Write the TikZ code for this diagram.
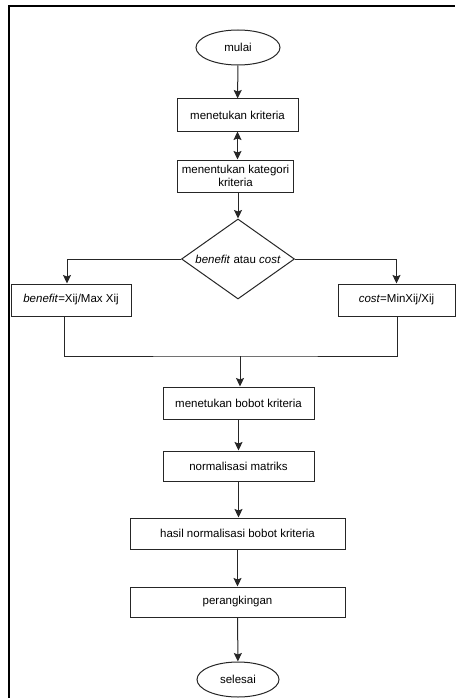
\documentclass[tikz,border=0pt]{standalone}
\usepackage{fontspec}
\setmainfont{Liberation Sans}
\usetikzlibrary{shapes.geometric,arrows.meta}
\begin{document}
\begin{tikzpicture}[x=1pt,y=-1pt,
  every node/.style={font=\fontsize{11.5}{13.5}\selectfont, text=black},
  box/.style={draw=black!85, line width=1pt, rectangle, inner sep=0pt, align=center},
  oval/.style={draw=black!85, line width=1pt, ellipse, inner sep=0pt},
  conn/.style={draw=black!85, line width=1pt},
  arr/.style={conn, -{Stealth[length=8.5pt,width=8pt,inset=1.5pt]}},
  darr/.style={conn, {Stealth[length=8.5pt,width=8pt,inset=1.5pt]}-{Stealth[length=8.5pt,width=8pt,inset=1.5pt]}},
  frame/.style={draw=black, line width=2pt}]
\useasboundingbox (0,0) rectangle (455,698);
\draw[frame] (9,698) -- (9,6) -- (455,6);

\node[oval, minimum width=84pt, minimum height=35pt] (mulai) at (238,47.5) {mulai};
\node[box, minimum width=121pt, minimum height=32pt] (k1) at (237.5,115) {menetukan kriteria};
\node[box, minimum width=116pt, minimum height=32pt] (k2) at (235.5,176) {menentukan kategori\\kriteria};
\node[diamond, draw=black!85, line width=1pt, inner sep=0pt, minimum width=113pt, minimum height=80pt] (dia) at (238,259) {};
\node (diat) at (dia.center) {\textit{benefit} atau \textit{cost}};
\node[box, minimum width=120pt, minimum height=32pt] (lb) at (71,300) {\textit{benefit}=Xij/Max Xij};
\node[box, minimum width=117pt, minimum height=32pt] (rb) at (396.5,300) {\textit{cost}=MinXij/Xij};
\coordinate (j) at (240,356);
\node[box, minimum width=151pt, minimum height=32pt] (bobot) at (238.5,403) {menetukan bobot kriteria};
\node[box, minimum width=151pt, minimum height=30pt] (norm) at (238.5,466) {normalisasi matriks};
\node[box, minimum width=215pt, minimum height=31pt] (hasil) at (237.5,533.5) {hasil normalisasi bobot kriteria};
\node[box, minimum width=215pt, minimum height=30pt] (rank) at (237.5,602) {perangkingan};
\node[oval, minimum width=82pt, minimum height=35pt] (sel) at (238,679.5) {selesai};

\draw[arr] (mulai) -- (k1);
\draw[darr] (k1.south) -- (k1.south |- k2.north);
\draw[arr] (k2.south -| dia.north) -- (dia.north);
\draw[arr] (dia.west) -| ([xshift=-4pt]lb.north);
\draw[arr] (dia.east) -| (rb.north);
\draw[conn] ([xshift=-7pt]lb.south) |- (j) -| ([xshift=1pt]rb.south);
\draw[arr] (j) -- (j |- bobot.north);
\draw[arr] (bobot) -- (norm);
\draw[arr] (norm.south) -- (norm.south |- hasil.north);
\draw[arr] (hasil) -- (rank);
\draw[arr] (rank) -- (sel);
\end{tikzpicture}
\end{document}
